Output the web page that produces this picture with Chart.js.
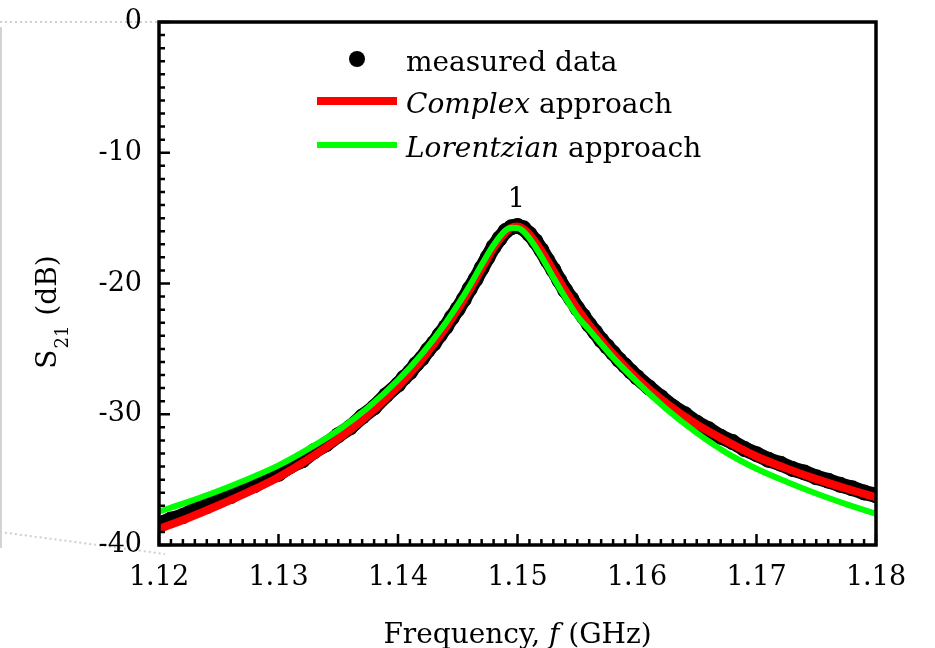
<!DOCTYPE html>
<html>
<head>
    <title>S21 resonance fit</title>
    <script src="https://cdn.jsdelivr.net/npm/chart.js"></script>
    <style>
        html, body { margin: 0; padding: 0; background: #fff; }
        canvas { display: block; }
    </style>
</head>
<body>
    <canvas id="s21Chart" width="935" height="648"></canvas>

    <script>
        // measured S21 (dB)
        var freqMeasured = [
            1.120, 1.121, 1.122, 1.123, 1.124, 1.125, 1.126, 1.127, 1.128, 1.129,
            1.130, 1.131, 1.132, 1.133, 1.134, 1.135, 1.136, 1.137, 1.138, 1.139,
            1.140, 1.1405, 1.141, 1.1415, 1.142, 1.1425, 1.143, 1.1435, 1.144, 1.1445,
            1.145, 1.1455, 1.146, 1.1465, 1.147, 1.1475, 1.148, 1.1485, 1.149, 1.1495,
            1.150, 1.1505, 1.151, 1.1515, 1.152, 1.1525, 1.153, 1.1535, 1.154, 1.1545,
            1.155, 1.1555, 1.156, 1.1565, 1.157, 1.1575, 1.158, 1.1585, 1.159, 1.1595,
            1.160, 1.161, 1.162, 1.163, 1.164, 1.165, 1.166, 1.167, 1.168, 1.169,
            1.170, 1.171, 1.172, 1.173, 1.174, 1.175, 1.176, 1.177, 1.178, 1.179, 1.180
        ];
        var s21Measured = [
            -38.40, -38.05, -37.78, -37.30, -37.02, -36.58, -36.25, -35.78, -35.42, -34.90,
            -34.55, -33.95, -33.52, -32.81, -32.29, -31.60, -31.00, -30.18, -29.47, -28.54,
            -27.73, -27.20, -26.78, -26.19, -25.72, -25.09, -24.57, -23.92, -23.32, -22.60,
            -21.95, -21.22, -20.40, -19.66, -18.82, -18.00, -17.20, -16.56, -15.99, -15.69,
            -15.60, -15.78, -16.22, -16.77, -17.45, -18.23, -18.96, -19.76, -20.53, -21.17,
            -21.90, -22.50, -23.15, -23.72, -24.32, -24.82, -25.32, -25.84, -26.28, -26.74,
            -27.17, -27.95, -28.70, -29.44, -30.00, -30.65, -31.15, -31.72, -32.13, -32.66,
            -33.05, -33.48, -33.78, -34.18, -34.45, -34.82, -35.08, -35.40, -35.66, -35.98, -36.20
        ];

        // fitted curves
        var freqFit = [
            1.120, 1.1225, 1.125, 1.1275, 1.130, 1.1325, 1.135, 1.1375, 1.140, 1.142,
            1.144, 1.145, 1.146, 1.147, 1.148, 1.149, 1.1495, 1.150, 1.1505, 1.151,
            1.152, 1.153, 1.154, 1.155, 1.156, 1.158, 1.160, 1.1625, 1.165, 1.1675,
            1.170, 1.1725, 1.175, 1.1775, 1.180
        ];
        var s21Complex = [
            -38.78, -37.91, -36.96, -35.94, -34.81, -33.44, -31.88, -30.05, -27.87, -25.81,
            -23.36, -21.98, -20.47, -18.87, -17.28, -16.07, -15.73, -15.65, -15.83, -16.26,
            -17.51, -19.03, -20.55, -21.93, -23.18, -25.39, -27.26, -29.19, -30.78, -32.07,
            -33.23, -34.14, -34.96, -35.68, -36.35
        ];
        var s21Lorentz = [
            -37.44, -36.68, -35.85, -34.93, -33.91, -32.65, -31.22, -29.48, -27.38, -25.38,
            -23.00, -21.64, -20.17, -18.57, -17.06, -15.94, -15.73, -15.75, -16.02, -16.55,
            -17.94, -19.55, -21.07, -22.48, -23.55, -25.67, -27.52, -29.63, -31.42, -32.95,
            -34.17, -35.16, -36.06, -36.87, -37.61
        ];

        var xTicksMajor = [1.12, 1.13, 1.14, 1.15, 1.16, 1.17, 1.18];
        var yTicksMajor = [0, -10, -20, -30, -40];
        var peakLabel = { x: 1.1499, text: "1" };

        var FONT = "DejaVu Serif";

        function toPoints(xs, ys) {
            return xs.map(function (x, i) { return { x: x, y: ys[i] }; });
        }

        function isMajor(v, list) {
            return list.some(function (m) { return Math.abs(m - v) < 1e-6; });
        }

        // frame, inward ticks, axis titles, legend, annotations
        var decorPlugin = {
            id: "decor",
            beforeDraw: function (chart) {
                var ctx = chart.ctx;
                ctx.save();
                // leftover inset guides from the source figure
                ctx.strokeStyle = "#c4c4c4";
                ctx.lineWidth = 1.5;
                ctx.beginPath();
                ctx.moveTo(1, 27);
                ctx.lineTo(1, 548);
                ctx.stroke();
                ctx.setLineDash([2, 3]);
                ctx.strokeStyle = "#cfcfcf";
                ctx.lineWidth = 2;
                ctx.beginPath();
                ctx.moveTo(0, 22);
                ctx.lineTo(157, 22);
                ctx.moveTo(0, 532);
                ctx.lineTo(165, 554);
                ctx.stroke();
                ctx.restore();
            },
            afterDraw: function (chart) {
                var ctx = chart.ctx;
                var a = chart.chartArea;
                var xs = chart.scales.x, ys = chart.scales.y;
                ctx.save();
                ctx.strokeStyle = "#000";
                ctx.lineWidth = 2.5;
                ctx.beginPath();
                xs.ticks.forEach(function (t) {
                    var px = xs.getPixelForValue(t.value);
                    var len = isMajor(t.value, xTicksMajor) ? 11 : 6;
                    ctx.moveTo(px, a.bottom);
                    ctx.lineTo(px, a.bottom - len);
                });
                ys.ticks.forEach(function (t) {
                    var py = ys.getPixelForValue(t.value);
                    var len = isMajor(t.value, yTicksMajor) ? 11 : 6;
                    ctx.moveTo(a.left, py);
                    ctx.lineTo(a.left + len, py);
                });
                ctx.stroke();
                ctx.lineWidth = 3.5;
                ctx.strokeRect(a.left, a.top, a.right - a.left, a.bottom - a.top);

                ctx.fillStyle = "#000";
                ctx.textBaseline = "alphabetic";

                // peak number
                ctx.font = "27px '" + FONT + "'";
                ctx.textAlign = "center";
                ctx.fillText(peakLabel.text, xs.getPixelForValue(peakLabel.x), 207);

                // x title with italic f
                var parts = [
                    { t: "Frequency, ", f: "28px '" + FONT + "'" },
                    { t: "f", f: "italic 28px '" + FONT + "'" },
                    { t: " (GHz)", f: "28px '" + FONT + "'" }
                ];
                var total = 0;
                parts.forEach(function (p) { ctx.font = p.f; p.w = ctx.measureText(p.t).width; total += p.w; });
                var cx = (a.left + a.right) / 2 - total / 2;
                ctx.textAlign = "left";
                parts.forEach(function (p) { ctx.font = p.f; ctx.fillText(p.t, cx, 643); cx += p.w; });

                // y title S21 (dB), rotated
                ctx.save();
                ctx.translate(56, 312);
                ctx.rotate(-Math.PI / 2);
                ctx.font = "28px '" + FONT + "'";
                var wS = ctx.measureText("S").width;
                ctx.font = "18px '" + FONT + "'";
                var wSub = ctx.measureText("21").width;
                ctx.font = "28px '" + FONT + "'";
                var wRest = ctx.measureText(" (dB)").width;
                var sx = -(wS + wSub + 2 + wRest) / 2;
                ctx.fillText("S", sx, 0);
                ctx.font = "18px '" + FONT + "'";
                ctx.fillText("21", sx + wS + 1, 12);
                ctx.font = "28px '" + FONT + "'";
                ctx.fillText(" (dB)", sx + wS + wSub + 2, 0);
                ctx.restore();

                // legend
                var ds = chart.data.datasets;
                ctx.fillStyle = ds[0].backgroundColor;
                ctx.beginPath();
                ctx.arc(357, 59, 8, 0, Math.PI * 2);
                ctx.fill();
                ctx.lineCap = "butt";
                ctx.strokeStyle = ds[1].borderColor;
                ctx.lineWidth = 8;
                ctx.beginPath();
                ctx.moveTo(317, 101);
                ctx.lineTo(397, 101);
                ctx.stroke();
                ctx.strokeStyle = ds[2].borderColor;
                ctx.lineWidth = 6;
                ctx.beginPath();
                ctx.moveTo(317, 145);
                ctx.lineTo(397, 145);
                ctx.stroke();

                ctx.fillStyle = "#000";
                ctx.textAlign = "left";
                ctx.font = "28px '" + FONT + "'";
                ctx.fillText(ds[0].label, 406, 71);
                var rows = [[ds[1].label, 113], [ds[2].label, 157]];
                rows.forEach(function (r) {
                    var words = r[0].split(" ");
                    ctx.font = "italic 28px '" + FONT + "'";
                    ctx.fillText(words[0], 406, r[1]);
                    var w = ctx.measureText(words[0] + " ").width;
                    ctx.font = "28px '" + FONT + "'";
                    ctx.fillText(words.slice(1).join(" "), 406 + w, r[1]);
                });
                ctx.restore();
            }
        };

        var canvas = document.getElementById("s21Chart");

        var chart = new Chart(canvas, {
            type: "line",
            data: {
                datasets: [
                    {
                        label: "measured data",
                        data: toPoints(freqMeasured, s21Measured),
                        borderColor: "#000",
                        backgroundColor: "#000",
                        borderWidth: 15,
                        pointRadius: 8,
                        pointBorderWidth: 0,
                        pointBackgroundColor: "#000",
                        tension: 0,
                        clip: 0,
                        order: 3
                    },
                    {
                        label: "Complex approach",
                        data: toPoints(freqFit, s21Complex),
                        borderColor: "#ff0000",
                        borderWidth: 8,
                        pointRadius: 0,
                        cubicInterpolationMode: "monotone",
                        clip: 0,
                        order: 2
                    },
                    {
                        label: "Lorentzian approach",
                        data: toPoints(freqFit, s21Lorentz),
                        borderColor: "#00ff00",
                        borderWidth: 6,
                        pointRadius: 0,
                        cubicInterpolationMode: "monotone",
                        clip: 0,
                        order: 1
                    }
                ]
            },
            options: {
                responsive: false,
                animation: false,
                devicePixelRatio: 1,
                layout: { padding: { left: 0, right: 59, top: 22, bottom: 0 } },
                plugins: {
                    legend: { display: false },
                    tooltip: { enabled: false }
                },
                scales: {
                    x: {
                        type: "linear",
                        min: 1.12,
                        max: 1.18,
                        grid: { display: false, drawTicks: false },
                        border: { display: false },
                        afterFit: function (scale) {
                            scale.height = 103;
                            scale.paddingLeft = 0;
                            scale.paddingRight = 0;
                        },
                        ticks: {
                            stepSize: 0.001,
                            autoSkip: false,
                            maxRotation: 0,
                            padding: 17,
                            color: "#000",
                            font: { family: FONT, size: 27 },
                            callback: function (v) {
                                return isMajor(v, xTicksMajor) ? v.toFixed(2) : "";
                            }
                        }
                    },
                    y: {
                        type: "linear",
                        min: -40,
                        max: 0,
                        grid: { display: false, drawTicks: false },
                        border: { display: false },
                        afterFit: function (scale) {
                            scale.width = 159;
                            scale.paddingTop = 0;
                            scale.paddingBottom = 0;
                        },
                        ticks: {
                            stepSize: 1,
                            autoSkip: false,
                            padding: 17,
                            color: "#000",
                            font: { family: FONT, size: 27 },
                            callback: function (v) {
                                return isMajor(v, yTicksMajor) ? String(v) : "";
                            }
                        }
                    }
                }
            },
            plugins: [decorPlugin]
        });
    </script>
</body>
</html>
